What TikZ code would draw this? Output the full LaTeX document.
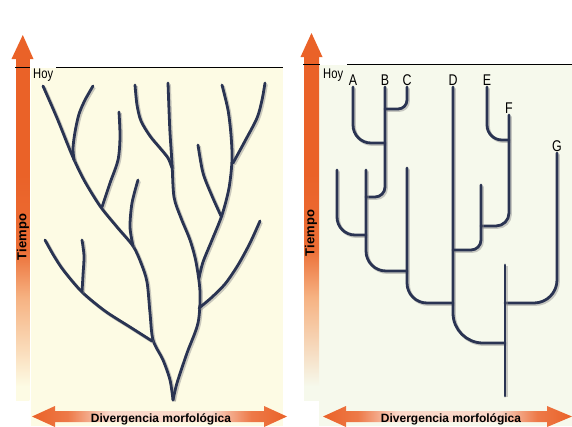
\documentclass[tikz,border=0pt]{standalone}
\usepackage{fontspec}
\setmainfont{Liberation Sans}
\newfontfamily\thinfont[FakeStretch=0.8]{Liberation Sans}
\definecolor{orng}{RGB}{234,98,40}
\definecolor{peach}{RGB}{246,178,130}
\definecolor{creamL}{RGB}{253,251,228}
\definecolor{creamR}{RGB}{246,249,236}
\definecolor{navy}{RGB}{42,52,82}
\pgfdeclareverticalshading{timeL}{100bp}{color(0bp)=(creamL); color(27bp)=(creamL); color(32bp)=(peach!40!creamL); color(40bp)=(peach); color(47bp)=(orng!85!peach); color(58bp)=(orng); color(100bp)=(orng)}
\pgfdeclareverticalshading{timeR}{100bp}{color(0bp)=(creamR); color(27bp)=(creamR); color(32bp)=(peach!40!creamR); color(40bp)=(peach); color(47bp)=(orng!85!peach); color(58bp)=(orng); color(100bp)=(orng)}
\pgfdeclarehorizontalshading{divshade}{100bp}{color(0bp)=(orng); color(25bp)=(orng); color(32bp)=(orng!85!white); color(40bp)=(orng!25!white); color(60bp)=(orng!25!white); color(68bp)=(orng!85!white); color(75bp)=(orng); color(100bp)=(orng)}
\begin{document}
\begin{tikzpicture}[x=1pt,y=-1pt,
  branchline/.style={draw=navy, line width=2.8pt, line cap=round, line join=round,
     preaction={draw=black!45, line width=3.2pt, opacity=0.45, transform canvas={shift={(1.3pt,-1.3pt)}}}},
  hoytext/.style={font=\thinfont\fontsize{14}{14}\selectfont, anchor=base west, inner sep=0pt},
  leaflabel/.style={font=\thinfont\fontsize{15.5}{15.5}\selectfont, anchor=south, inner sep=1pt},
  axistext/.style={font=\bfseries\fontsize{13}{13}\selectfont, rotate=90, inner sep=0pt},
  divtext/.style={font=\bfseries\fontsize{12}{12}\selectfont, anchor=base, inner sep=0pt},
  hoyline/.style={draw=black, line width=0.7pt}]
\useasboundingbox (0,0) rectangle (572,426);
\fill[white] (0,0) rectangle (572,426);
\fill[creamL] (31,67.5) rectangle (283,426);
\fill[creamR] (319,64.5) rectangle (572,426);

% ---------- left panel axes ----------
\fill[orng] (22.8,35) -- (33.5,59) -- (11.5,59) -- cycle;
\shade[shading=timeL] (16.2,58.5) rectangle (29.4,400);
\draw[hoyline] (15,67.5) -- (30,67.5);
\node[hoytext] (hoyL) at (33,78) {Hoy};
\coordinate (hoyLend) at (283,67.5);
\draw[hoyline] (56,67.5) -- (hoyLend);
\node[axistext] (tiempoL) at (23,237) {Tiempo};
\shade[shading=divshade] (32,416.5) -- (55,406) -- (55,411) -- (264,411) -- (264,406) -- (287,416.5) -- (264,427) -- (264,422) -- (55,422) -- (55,427) -- cycle;
\node[divtext] (divL) at (161,422) {Divergencia morfológica};

% ---------- left panel tree ----------
\draw[branchline] plot[smooth] coordinates {(43,86) (57,118) (72,155) (84,180) (100,206) (117,227) (133,246) (141,263) (147,282) (150,313) (153,340) (163,360) (170,380) (173,400)};
\draw[branchline] plot[smooth] coordinates {(93,86) (85,100) (79,114) (75,132) (73,148) (74,160)};
\draw[branchline] plot[smooth] coordinates {(119,112) (120,137) (118,160) (110,183) (102,207)};
\draw[branchline] plot[smooth] coordinates {(138,180) (132,203) (130,227) (133,246)};
\draw[branchline] plot[smooth] coordinates {(135,85) (137,105) (141,121) (150,136) (160,148) (168,158) (172,168)};
\draw[branchline] plot[smooth] coordinates {(168,83) (169,110) (170,133) (172,163) (174,197) (181,218) (190,240) (196,262) (200,292) (198,323) (187,353) (177,383) (173,400)};
\draw[branchline] plot[smooth] coordinates {(198,145) (203,173) (212,196) (221,216)};
\draw[branchline] plot[smooth] coordinates {(222,85) (228,110) (231,135) (232,160) (229,188) (222,215) (212,240) (203,262) (199,278)};
\draw[branchline] plot[smooth] coordinates {(265,83) (262,100) (257,118) (245,141) (233,163)};
\draw[branchline] plot[smooth] coordinates {(260,221) (250,243) (238,265) (225,284) (211,298) (199,308)};
\draw[branchline] plot[smooth] coordinates {(45,240) (54,256) (64,271) (82,292) (105,311) (130,327) (152,341)};
\draw[branchline] plot[smooth] coordinates {(82,240) (84,256) (83,275) (82,292)};

% ---------- right panel axes ----------
\fill[orng] (311.5,33) -- (322.5,57) -- (300.5,57) -- cycle;
\shade[shading=timeR] (304,56.5) rectangle (319,400);
\draw[hoyline] (303,64.5) -- (320,64.5);
\node[hoytext] (hoyR) at (323,78) {Hoy};
\coordinate (hoyRend) at (572,64.5);
\draw[hoyline] (347,64.5) -- (hoyRend);
\node[axistext] (tiempoR) at (311,233) {Tiempo};
\shade[shading=divshade] (323,416.5) -- (346,406) -- (346,411) -- (547,411) -- (547,406) -- (572,416.5) -- (547,427) -- (547,422) -- (346,422) -- (346,427) -- cycle;
\node[divtext] (divR) at (451,422) {Divergencia morfológica};

% ---------- right panel cladogram ----------
\node[leaflabel] (A) at (353,87) {A};
\node[leaflabel] (B) at (385,87) {B};
\node[leaflabel] (C) at (407,87) {C};
\node[leaflabel] (D) at (453,87) {D};
\node[leaflabel] (E) at (487,87) {E};
\node[leaflabel] (F) at (509,115) {F};
\node[leaflabel] (G) at (557,153) {G};

\coordinate (jA) at (385,143);
\coordinate (jC) at (385,109);
\coordinate (jB) at (366,197);
\coordinate (jL) at (366,235);
\coordinate (j366) at (407,271);
\coordinate (j407) at (453,303);
\coordinate (jD) at (505,343);
\coordinate (jE) at (509,140);
\coordinate (jF) at (481,226);
\coordinate (j481) at (453,250);
\coordinate (jG) at (505,303);
\coordinate (t337) at (337,170);
\coordinate (t366) at (366,170);
\coordinate (t407) at (407,168);
\coordinate (t481) at (481,185);
\coordinate (rootTop) at (505,265);
\coordinate (rootBot) at (505,396);

\draw[branchline, rounded corners=18pt] (A.south) |- (jA);
\draw[branchline, rounded corners=10pt] (B.south) |- (jB);
\draw[branchline, rounded corners=9pt] (C.south) |- (jC);
\draw[branchline, rounded corners=18pt] (t337) |- (jL);
\draw[branchline, rounded corners=20pt] (t366) |- (j366);
\draw[branchline, rounded corners=20pt] (t407) |- (j407);
\draw[branchline, rounded corners=30pt] (D.south) |- (jD);
\draw[branchline, rounded corners=15pt] (E.south) |- (jE);
\draw[branchline, rounded corners=13pt] (F.south) |- (jF);
\draw[branchline, rounded corners=10pt] (t481) |- (j481);
\draw[branchline, rounded corners=23pt] (G.south) |- (jG);
\draw[branchline] (rootTop) -- (rootBot);
\end{tikzpicture}
\end{document}
